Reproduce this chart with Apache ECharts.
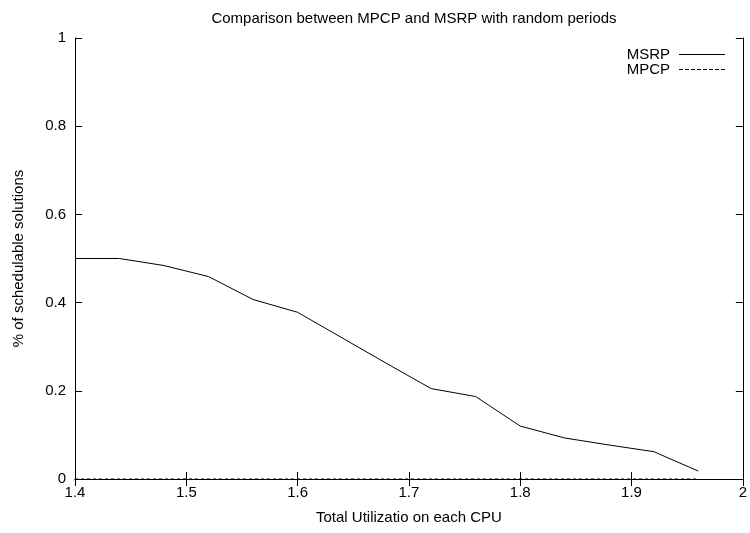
<!DOCTYPE html>
<html>
<head>
<meta charset="utf-8">
<script src="https://cdn.jsdelivr.net/npm/echarts@6/dist/echarts.min.js"></script>
<style>
html,body{margin:0;padding:0;background:#fff;}
#chart{width:750px;height:533px;}
</style>
</head>
<body>
<div id="chart"></div>
<script>
var utilization = [1.40, 1.44, 1.48, 1.52, 1.56, 1.60, 1.64, 1.68, 1.72, 1.76, 1.80, 1.84, 1.88, 1.92, 1.96];
var msrp = [0.500, 0.500, 0.484, 0.459, 0.407, 0.378, 0.320, 0.262, 0.205, 0.187, 0.120, 0.093, 0.077, 0.062, 0.018];
var mpcp = [0, 0, 0, 0, 0, 0, 0, 0, 0, 0, 0, 0, 0, 0, 0];
var xTicks = ['1.4', '1.5', '1.6', '1.7', '1.8', '1.9', '2'];
var yTicks = ['0', '0.2', '0.4', '0.6', '0.8', '1'];

var FONT = 'Liberation Sans';
var FS = 15;
function pairs(xs, ys) { return xs.map(function (x, i) { return [x, ys[i]]; }); }
function fmt(list, step, base) {
  return function (v) { var i = Math.round((v - base) / step); return list[i] !== undefined ? list[i] : ''; };
}
// legend sample icons (thin solid / dashed line)
var solidIcon = 'path://M0,0h46v1h-46z';
var dashParts = [];
for (var d = 0; d < 46; d += 6) { dashParts.push('M' + d + ',0h' + Math.min(4, 46 - d) + 'v1h-' + Math.min(4, 46 - d) + 'z'); }
var dashIcon = 'path://' + dashParts.join(' ');

var chart = echarts.init(document.getElementById('chart'), null, {renderer: 'canvas'});
var axisCommon = {
  axisLine: {show: true, lineStyle: {color: '#000', width: 1}},
  axisTick: {show: true, inside: true, length: 7, lineStyle: {color: '#000', width: 1}},
  splitLine: {show: false}
};
chart.setOption({
  animation: false,
  backgroundColor: '#fff',
  title: {
    text: 'Comparison between MPCP and MSRP with random periods',
    left: 409, top: 6, textAlign: 'center',
    textStyle: {fontFamily: FONT, fontSize: FS, fontWeight: 'normal', color: '#000'}
  },
  legend: {
    orient: 'vertical', right: 20, top: 42, align: 'right', itemGap: 0,
    itemWidth: 46, itemHeight: 14, symbolKeepAspect: true,
    textStyle: {fontFamily: FONT, fontSize: FS, color: '#000', padding: [0, 4, 0, 0]},
    data: [
      {name: 'MSRP', icon: solidIcon, itemStyle: {color: '#000'}},
      {name: 'MPCP', icon: dashIcon, itemStyle: {color: '#000'}}
    ]
  },
  grid: {left: 75, right: 7, top: 38, bottom: 54},
  xAxis: [
    Object.assign({}, axisCommon, {
      type: 'value', min: 1.4, max: 2, interval: 0.1, position: 'bottom',
      name: 'Total Utilizatio on each CPU', nameLocation: 'middle', nameGap: 31,
      nameTextStyle: {fontFamily: FONT, fontSize: FS, color: '#000'},
      axisLabel: {fontFamily: FONT, fontSize: FS, color: '#000', margin: 6, formatter: fmt(xTicks, 0.1, 1.4)}
    }),
    Object.assign({}, axisCommon, {
      type: 'value', min: 1.4, max: 2, interval: 0.1, position: 'top',
      axisLabel: {show: false}
    })
  ],
  yAxis: [
    Object.assign({}, axisCommon, {
      type: 'value', min: 0, max: 1, interval: 0.2, position: 'left',
      name: '% of schedulable solutions', nameLocation: 'middle', nameGap: 49,
      nameTextStyle: {fontFamily: FONT, fontSize: FS, color: '#000'},
      axisLabel: {fontFamily: FONT, fontSize: FS, color: '#000', margin: 9, formatter: fmt(yTicks, 0.2, 0)}
    }),
    Object.assign({}, axisCommon, {
      type: 'value', min: 0, max: 1, interval: 0.2, position: 'right',
      axisLabel: {show: false}
    })
  ],
  series: [
    {
      name: 'MSRP', type: 'line', symbol: 'none', showSymbol: false,
      data: pairs(utilization, msrp),
      lineStyle: {color: '#000', width: 1, type: 'solid'},
      itemStyle: {color: '#000'}
    },
    {
      name: 'MPCP', type: 'line', symbol: 'none', showSymbol: false,
      data: pairs(utilization, mpcp),
      lineStyle: {color: '#000', width: 1, type: [3, 3]},
      itemStyle: {color: '#000'}
    }
  ]
});
</script>
</body>
</html>
